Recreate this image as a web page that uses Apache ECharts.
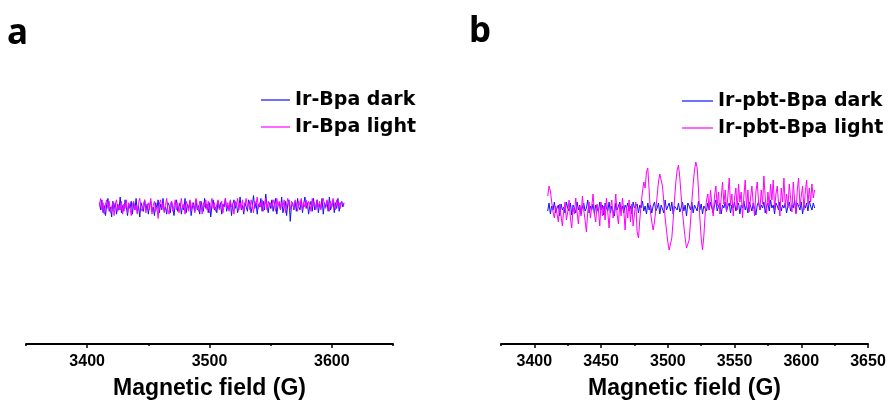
<!DOCTYPE html>
<html><head><meta charset="utf-8">
<script src="https://cdn.jsdelivr.net/npm/echarts@6/dist/echarts.min.js"></script>
<style>html,body{margin:0;padding:0;background:#fff}#c{width:888px;height:401px}</style>
</head><body><div id="c"></div>
<script>
// Magnetic field sweep (G)
const fields = [
3410,3411,3412,3413,3414,3415,3416,3417,3418,3419,3420,3421,3422,3423,3424,3425,3426,3427,3428,3429,
3430,3431,3432,3433,3434,3435,3436,3437,3438,3439,3440,3441,3442,3443,3444,3445,3446,3447,3448,3449,
3450,3451,3452,3453,3454,3455,3456,3457,3458,3459,3460,3461,3462,3463,3464,3465,3466,3467,3468,3469,
3470,3471,3472,3473,3474,3475,3476,3477,3478,3479,3480,3481,3482,3483,3484,3485,3486,3487,3488,3489,
3490,3491,3492,3493,3494,3495,3496,3497,3498,3499,3500,3501,3502,3503,3504,3505,3506,3507,3508,3509,
3510,3511,3512,3513,3514,3515,3516,3517,3518,3519,3520,3521,3522,3523,3524,3525,3526,3527,3528,3529,
3530,3531,3532,3533,3534,3535,3536,3537,3538,3539,3540,3541,3542,3543,3544,3545,3546,3547,3548,3549,
3550,3551,3552,3553,3554,3555,3556,3557,3558,3559,3560,3561,3562,3563,3564,3565,3566,3567,3568,3569,
3570,3571,3572,3573,3574,3575,3576,3577,3578,3579,3580,3581,3582,3583,3584,3585,3586,3587,3588,3589,
3590,3591,3592,3593,3594,3595,3596,3597,3598,3599,3600,3601,3602,3603,3604,3605,3606,3607,3608,3609,3610
];
// EPR intensity (a.u.)
const irBpaDark = [
3,-2,5,-4,1,-6,2,6,-3,0,-7,4,-1,3,-5,2,-2,7,-4,1,
-3,5,0,-6,2,-1,4,-5,3,-2,6,-4,1,-7,3,0,-3,5,-2,2,
-5,1,4,-3,0,-6,3,-1,5,-4,2,-2,6,-3,0,-5,3,1,-4,4,
-1,-6,2,5,-3,0,3,-5,1,-2,6,-4,2,-1,4,-6,0,3,-3,5,
-2,1,-5,4,0,-3,6,-1,2,-4,3,-7,1,5,-2,0,-4,4,-1,3,
-5,2,0,6,-3,1,-2,4,-6,2,5,-1,3,-4,0,7,-2,1,-5,3,
0,-3,5,2,-4,1,8,-1,3,-5,2,0,6,-3,4,-2,9,1,-4,3,
-1,5,-3,2,6,-5,1,3,-2,7,-4,0,4,-6,2,5,-10,1,3,-2,
4,-3,6,0,-2,5,-4,2,7,-1,3,-5,1,4,-3,6,-2,0,5,-4,
2,-1,6,-5,3,0,4,-3,7,-2,1,5,-4,3,-1,6,-3,2,4,0,3
];
const irBpaLight = [
1,6,-2,3,-5,2,5,-1,4,-4,0,3,-6,2,5,-3,1,-2,4,-5,
2,-1,5,-4,3,0,-6,2,4,-2,1,-5,3,6,-1,-3,2,5,-4,0,
3,-2,6,-5,1,4,-3,0,-8,2,5,-1,3,-4,1,6,-2,-5,2,4,
-3,1,5,-2,3,-4,0,6,-1,2,-5,4,1,-3,5,-2,3,0,-4,6,
1,-3,4,2,-5,3,0,5,-2,4,-4,1,6,-1,3,-3,2,5,-2,0,
4,-4,2,6,-1,3,-3,5,0,2,-5,4,1,6,-2,3,-1,5,-3,2,
6,0,3,-2,5,1,-4,4,2,7,-1,3,0,5,-3,2,6,-2,4,1,
3,-1,5,2,-3,6,1,4,-2,3,0,5,-4,2,6,1,-2,4,3,-1,
5,2,-3,4,1,6,-2,3,0,5,-1,4,2,-3,6,1,3,-2,5,0,
4,-2,3,6,1,-1,5,2,-3,4,0,6,2,-2,5,1,3,-1,4,2,1
];
const irPbtBpaDark = [
-3,5,-6,2,-2,6,-5,0,3,-8,4,-2,1,-5,6,0,-3,5,-7,3,
0,-5,6,-2,3,-6,1,5,-3,0,8,-5,2,-2,4,-6,3,0,-4,6,
-2,3,-7,5,0,-3,6,-5,2,3,-8,5,-2,0,6,-3,2,-5,3,0,
5,-3,2,-6,6,0,-2,4,-5,3,0,7,-3,2,-6,5,-2,3,-5,2,
6,-3,0,5,-6,3,2,-5,8,-2,0,5,-3,6,-6,2,3,-2,5,-4,
0,6,-3,3,-8,5,2,-2,6,-5,3,0,-3,7,-2,4,-6,2,3,-3,
5,-2,6,0,-5,3,8,-3,2,5,-6,3,0,6,-3,2,5,-5,3,0,
6,-3,2,5,-6,3,0,7,-2,3,-5,6,2,-3,5,0,-7,3,6,-2,
3,0,6,-5,2,5,-3,8,0,3,-6,5,2,-2,6,-3,3,0,5,-5,
2,6,-3,3,0,8,-5,5,2,-2,6,-6,3,0,5,-3,7,2,-2,5,0
];
const irPbtBpaLight = [
12,22,17,6,-4,-10,2,-6,-14,4,-8,-18,-2,6,-12,-4,8,-10,-20,0,
-6,10,-4,-16,2,-8,12,-2,-12,-24,-4,6,-10,2,14,-6,-14,4,-2,-18,
6,-8,2,-12,10,-4,-20,0,8,-10,-2,14,-6,-16,4,-8,10,-2,-22,2,
-10,8,-14,4,-18,-6,6,-24,-30,-12,4,16,26,20,36,40,18,-4,-14,-22,
-14,-2,12,26,34,36,22,6,-10,-22,-34,-42,-44,-30,-12,8,26,38,43,30,
12,-4,-18,-30,-40,-42,-32,-14,6,24,38,46,40,18,-10,-30,-42,-28,-6,8,
14,-2,18,4,-8,12,22,2,16,-6,10,26,4,18,-4,12,30,2,14,-8,
10,20,-2,24,6,16,-10,12,28,0,18,-4,10,22,4,-8,16,26,6,-2,
18,4,32,10,-6,16,2,24,8,28,-2,14,22,4,-8,20,6,30,2,14,
0,24,10,-4,26,8,-6,18,30,2,12,22,-2,16,28,4,20,6,24,10,18
];
const ticksA = [3400, 3500, 3600];
const ticksB = [3400, 3450, 3500, 3550, 3600, 3650];
const minorB = [3375, 3425, 3475, 3525, 3575, 3625];

const zip = (xs, ys) => xs.map((x, i) => [x, ys[i]]);
const BLUE = '#1010ff', MAG = '#ff00ff';
const labelFont = {fontFamily: '"Liberation Sans", Arial, sans-serif', fontWeight: 'bold', fontSize: 16, color: '#000'};
const nameFont = {fontFamily: '"Liberation Sans", Arial, sans-serif', fontWeight: 'bold', fontSize: 23, color: '#000'};

function mainAxis(grid, min, max, interval, labels, minorVals) {
  return {
    type: 'value', gridIndex: grid, min, max, interval, position: 'bottom',
    name: 'Magnetic field (G)', nameLocation: 'middle', nameGap: 33, nameTextStyle: nameFont,
    axisLine: {show: true, onZero: false, lineStyle: {color: '#000', width: 2}},
    axisTick: Object.assign({show: true, inside: false, length: 2, lineStyle: {color: '#000', width: 1.5}}, minorVals ? {customValues: minorVals} : {}),
    axisLabel: Object.assign({margin: 10, customValues: labels, formatter: (v) => String(v)}, labelFont),
    splitLine: {show: false}
  };
}
function majorAxis(grid, min, max, vals) {
  return {
    type: 'value', gridIndex: grid, min, max, position: 'bottom',
    axisLine: {show: false, onZero: false},
    axisTick: {show: true, length: 4, customValues: vals, lineStyle: {color: '#000', width: 1.5}},
    axisLabel: {show: false}, splitLine: {show: false}
  };
}
const lineSeries = (name, x, y, data, color) => ({
  name, type: 'line', xAxisIndex: x, yAxisIndex: y, data, symbol: 'none', showSymbol: false,
  sampling: null, animation: false, lineStyle: {width: 1, color}, itemStyle: {color}
});
const legendText = {fontFamily: '"DejaVu Sans", sans-serif', fontWeight: 'bold', fontSize: 19, color: '#000', lineHeight: 20};

const chart = echarts.init(document.getElementById('c'), null, {renderer: 'canvas'});
chart.setOption({
  animation: false,
  backgroundColor: '#fff',
  grid: [
    {left: 26, top: 72, width: 367, height: 272, outerBoundsMode: 'none', containLabel: false},
    {left: 501, top: 72, width: 367, height: 272, outerBoundsMode: 'none', containLabel: false}
  ],
  xAxis: [
    mainAxis(0, 3350, 3650, 50, ticksA, null),
    majorAxis(0, 3350, 3650, ticksA),
    mainAxis(1, 3375, 3650, 25, ticksB, minorB),
    majorAxis(1, 3375, 3650, ticksB)
  ],
  yAxis: [
    {type: 'value', gridIndex: 0, min: -95.7, max: 94.3, show: false},
    {type: 'value', gridIndex: 1, min: -136, max: 136, show: false}
  ],
  legend: [
    {orient: 'vertical', left: 256, top: 85, icon: 'rect', itemWidth: 29, itemHeight: 1.2, itemGap: 7, textStyle: legendText,
     data: ['Ir-Bpa dark', 'Ir-Bpa light']},
    {orient: 'vertical', left: 677, top: 86, icon: 'rect', itemWidth: 31, itemHeight: 1.2, itemGap: 7, textStyle: legendText,
     data: ['Ir-pbt-Bpa dark', 'Ir-pbt-Bpa light']}
  ],
  graphic: [
    {type: 'text', left: 7, top: 17, style: {text: 'a', font: 'bold 35px "Noto Sans", sans-serif', fill: '#000'}},
    {type: 'text', left: 469, top: 15, style: {text: 'b', font: 'bold 35px "Noto Sans", sans-serif', fill: '#000'}}
  ],
  series: [
    lineSeries('Ir-Bpa dark', 0, 0, zip(fields, irBpaDark), BLUE),
    lineSeries('Ir-Bpa light', 0, 0, zip(fields, irBpaLight), MAG),
    lineSeries('Ir-pbt-Bpa dark', 2, 1, zip(fields, irPbtBpaDark), BLUE),
    lineSeries('Ir-pbt-Bpa light', 2, 1, zip(fields, irPbtBpaLight), MAG)
  ]
});
</script></body></html>
